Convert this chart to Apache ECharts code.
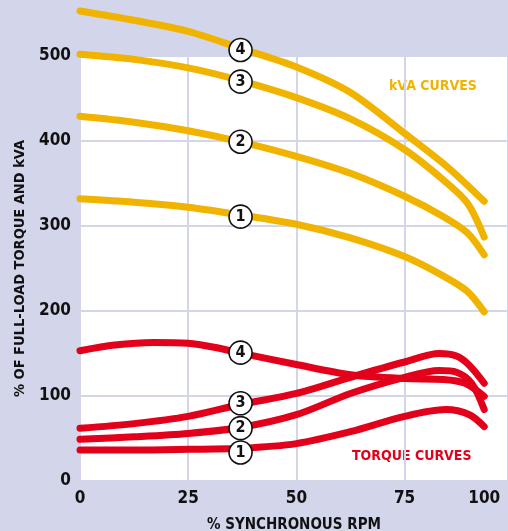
<!DOCTYPE html>
<html>
<head>
<meta charset="utf-8">
<script src="https://cdn.jsdelivr.net/npm/echarts@6/dist/echarts.min.js"></script>
<style>
html,body{margin:0;padding:0;background:#D3D5EA;}
#chart{width:508px;height:531px;}
</style>
</head>
<body>
<div id="chart"></div>
<script>
// x positions are read on the drawn (linear) scale; the "100" tick sits at 93.4 on it
var xTickPos = [0, 25, 50, 75, 93.4];
var xTickLabels = ['0', '25', '50', '75', '100'];
var yTicks = [0, 100, 200, 300, 400, 500];

var kva4 = [[0,553],[12.5,542],[25,529],[37.1,509],[50,487],[62.5,457],[75,409],[85,369],[93.4,329]];
var kva3 = [[0,502],[12.5,496],[25,486],[37.1,471],[50,451],[62.5,426],[75,390],[84,354],[89.5,327],[93.4,287]];
var kva2 = [[0,429],[12.5,422],[25,412],[37.1,399],[50,382],[62.5,362],[75,335],[84,311],[89.5,292],[93.4,266]];
var kva1 = [[0,332],[12.5,328],[25,322],[37.1,313],[50,302],[62.5,286],[75,264],[84,241],[89.5,223],[93.4,199]];

var torque4 = [[0,153.3],[8,160],[17,163],[25,162],[31,157.3],[37.1,150.5],[50,137],[62.5,125],[75,120.5],[84,119.5],[89,115],[93.4,99.6]];
var torque3 = [[0,62],[12.5,67.5],[25,76],[37.1,90],[50,103],[62.5,122],[75,140],[83,150],[87,147],[90,136],[93.4,115]];
var torque2 = [[0,49],[12.5,52],[25,56],[37.1,63],[50,78],[62.5,103],[75,122],[83,130],[87,128],[90.5,115],[93.4,84]];
var torque1 = [[0,36.5],[12.5,36.5],[25,37.3],[37.1,38.5],[50,44],[62.5,58],[75,76],[84.5,84],[90,78],[93.4,64]];

var markerX = 37.1;
var kvaMarkers = [['4',507],['3',469.8],['2',399.2],['1',311]];
var torqueMarkers = [['4',151],['3',91.4],['2',62.2],['1',33.5]];

var YELLOW = '#F0B400';
var RED = '#E2001A';
var LAV = '#D3D5EA';
var FONT = '"DejaVu Sans Condensed","DejaVu Sans",sans-serif';

function curve(data, color) {
  return {
    type: 'line', data: data, smooth: 0.3, symbol: 'none', clip: false,
    lineStyle: { color: color, width: 7, cap: 'round', join: 'round' },
    z: 3, silent: true
  };
}
function markers(list) {
  return {
    type: 'scatter', clip: false, symbol: 'circle', symbolSize: 23, z: 5, silent: true,
    data: list.map(function (m) { return { value: [markerX, m[1]], name: m[0] }; }),
    itemStyle: { color: '#fff', borderColor: '#111', borderWidth: 1.6, opacity: 1 },
    label: { show: true, position: 'inside', formatter: '{b}', color: '#111',
      fontFamily: FONT, fontWeight: 'bold', fontSize: 16 }
  };
}

var chart = echarts.init(document.getElementById('chart'));
chart.setOption({
  backgroundColor: LAV,
  animation: false,
  grid: { left: 80, top: 56, right: 0, bottom: 50, show: true, backgroundColor: '#fff', borderWidth: 0,
    containLabel: false, outerBoundsMode: 'none' },
  xAxis: {
    type: 'value', min: 0, max: 98.9, interval: 25,
    axisLine: { show: false }, axisTick: { show: false },
    splitLine: { show: true, lineStyle: { color: LAV, width: 2 } },
    axisLabel: {
      customValues: xTickPos,
      formatter: function (v) {
        var best = 0;
        for (var i = 0; i < xTickPos.length; i++) if (Math.abs(xTickPos[i] - v) < Math.abs(xTickPos[best] - v)) best = i;
        return xTickLabels[best];
      },
      color: '#111', fontFamily: FONT, fontWeight: 'bold', fontSize: 17, margin: 9
    },
    name: '% SYNCHRONOUS RPM', nameLocation: 'middle', nameGap: 37,
    nameTextStyle: { color: '#111', fontFamily: FONT, fontWeight: 'bold', fontSize: 15 }
  },
  yAxis: {
    type: 'value', min: yTicks[0], max: yTicks[yTicks.length - 1], interval: 100,
    axisLine: { show: false }, axisTick: { show: false },
    splitLine: { show: true, lineStyle: { color: LAV, width: 2 } },
    axisLabel: { color: '#111', fontFamily: FONT, fontWeight: 'bold', fontSize: 17, margin: 9 },
    name: '% OF FULL-LOAD TORQUE AND kVA', nameLocation: 'middle', nameRotate: 90, nameGap: 47,
    nameTextStyle: { color: '#111', fontFamily: FONT, fontWeight: 'bold', fontSize: 14.5 }
  },
  graphic: [
    { type: 'text', left: 389, top: 79, style: { text: 'kVA CURVES', fill: YELLOW, font: 'bold 14px ' + FONT } },
    { type: 'text', left: 352, top: 449, style: { text: 'TORQUE CURVES', fill: RED, font: 'bold 14px ' + FONT } }
  ],
  series: [
    curve(kva4, YELLOW), curve(kva3, YELLOW), curve(kva2, YELLOW), curve(kva1, YELLOW),
    curve(torque4, RED), curve(torque3, RED), curve(torque2, RED), curve(torque1, RED),
    markers(kvaMarkers), markers(torqueMarkers)
  ]
});
</script>
</body>
</html>
